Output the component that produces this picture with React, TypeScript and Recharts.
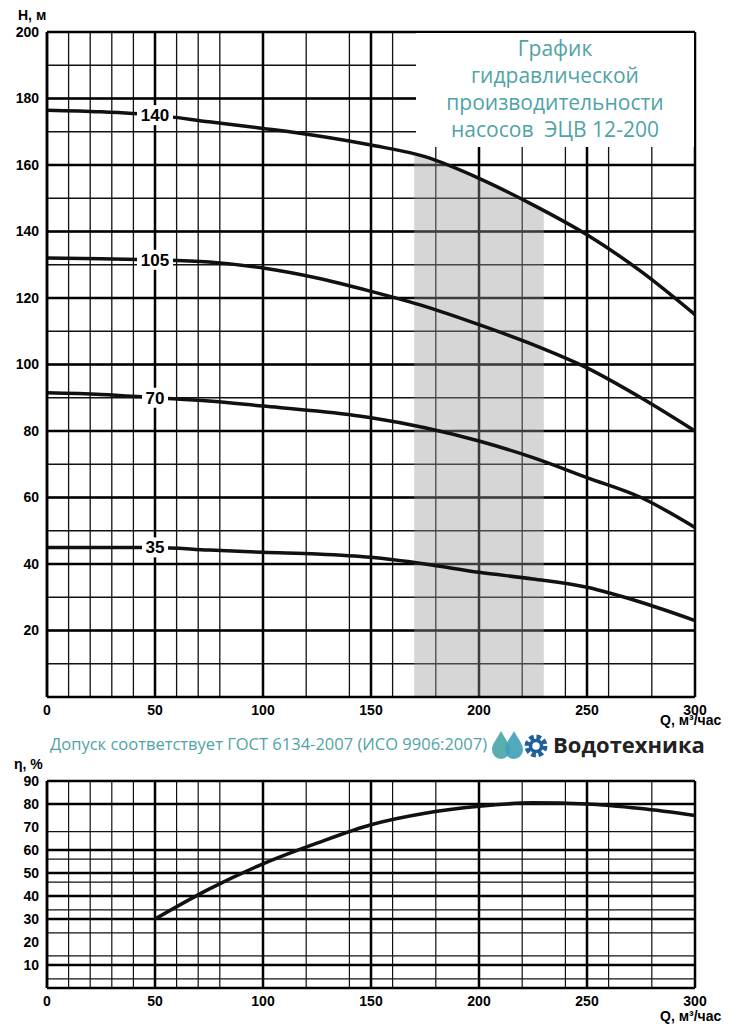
import { LineChart, Line, XAxis, YAxis, CartesianGrid, Area, ComposedChart, ReferenceDot } from "recharts";

const q = [0, 25, 50, 75, 100, 125, 150, 175, 200, 225, 250, 275, 300];
const h140 = [176.5, 176, 175, 173, 171, 168.8, 166, 162.5, 156, 148, 139, 128, 115];
const h105 = [132, 131.8, 131.5, 130.8, 129, 126, 122, 117.5, 112, 106, 99, 90, 80];
const h70 = [91.5, 91, 90, 89, 87.5, 86, 84, 81, 77, 72, 66, 60, 51];
const h35 = [45, 45, 45, 44.2, 43.5, 43, 42, 40, 37.5, 35.5, 33, 28.5, 23];

const shadeQ = [170, 185, 200, 215, 230];
const shadeH = [163.5, 160, 156, 151.5, 146];

const effQ = [50, 75, 100, 125, 150, 175, 200, 225, 250, 275, 300];
const eff = [30, 43, 54, 63, 71, 76, 79, 80.5, 80, 78, 75];

const xTicks = [0, 50, 100, 150, 200, 250, 300];
const hTicks = [20, 40, 60, 80, 100, 120, 140, 160, 180, 200];
const eTicks = [10, 20, 30, 40, 50, 60, 70, 80, 90];
const curveLabels = [
  { name: "140", y: 175 },
  { name: "105", y: 131.5 },
  { name: "70", y: 90 },
  { name: "35", y: 45 },
];

const range = (a: number, b: number, s: number) => {
  const r: number[] = [];
  for (let v = a; v <= b; v += s) r.push(v);
  return r;
};

const headData = q.map((v, i) => ({ q: v, h140: h140[i], h105: h105[i], h70: h70[i], h35: h35[i] }));
const shadeData = shadeQ.map((v, i) => ({ q: v, shade: shadeH[i] }));
const effData = effQ.map((v, i) => ({ q: v, eff: eff[i] }));

const font = "'Liberation Sans', Arial, sans-serif";
const tickStyle = { fontFamily: font, fontWeight: 700, fontSize: 14, fill: "#000" };

const CurveLabel = (props: any) => {
  const { viewBox, value } = props;
  const cx = viewBox.x;
  const cy = viewBox.y;
  const w = value.length * 10 + 6;
  return (
    <g>
      <rect x={cx - w / 2} y={cy - 10} width={w} height={20} fill="#fff" />
      <text x={cx} y={cy + 6} textAnchor="middle" style={{ fontFamily: font, fontWeight: 700, fontSize: 17 }}>
        {value}
      </text>
    </g>
  );
};

export default function App() {
  return (
    <div style={{ position: "relative", width: 737, height: 1024, margin: "-8px 0 0 -8px", background: "#fff" }}>
      <div style={{ position: "absolute", left: 0, top: 0 }}>
        <ComposedChart width={737} height={725} margin={{ top: 32, right: 42, left: 0, bottom: 0 }}>
          <CartesianGrid horizontalValues={range(0, 200, 5)} verticalValues={range(0, 300, 10)} stroke="#111" strokeWidth={1.3} />
          <CartesianGrid horizontalValues={hTicks} verticalValues={xTicks} stroke="#000" strokeWidth={2.5} />
          <Area data={shadeData} dataKey="shade" type="monotone" stroke="none" fill="#999" fillOpacity={0.4} isAnimationActive={false} />
          <XAxis type="number" dataKey="q" domain={[0, 300]} ticks={xTicks} height={28} tick={tickStyle} tickLine={false} axisLine={{ stroke: "#000", strokeWidth: 2.5 }} allowDuplicatedCategory={false} />
          <YAxis type="number" domain={[0, 200]} ticks={hTicks} width={47} tick={tickStyle} tickLine={false} axisLine={{ stroke: "#000", strokeWidth: 2.5 }} />
          {["h140", "h105", "h70", "h35"].map((k) => (
            <Line key={k} data={headData} dataKey={k} type="monotone" stroke="#111" strokeWidth={3.5} dot={false} isAnimationActive={false} />
          ))}
          {curveLabels.map((c) => (
            <ReferenceDot key={c.name} x={50} y={c.y} r={0} label={<CurveLabel value={c.name} />} />
          ))}
        </ComposedChart>
      </div>
      <div style={{ position: "absolute", left: 416, top: 33, width: 278, height: 112, background: "#fff", color: "#4fa3a6", fontFamily: "'Open Sans', sans-serif", fontSize: 21, lineHeight: "27px", textAlign: "center", paddingTop: 2 }}>
        График<br />гидравлической<br />производительности<br />насосов&nbsp; ЭЦВ 12-200
      </div>
      <div style={{ position: "absolute", left: 18, top: 7, fontFamily: font, fontWeight: 700, fontSize: 14, lineHeight: "16px" }}>H, м</div>
      <div style={{ position: "absolute", left: 660, top: 712, fontFamily: font, fontWeight: 700, fontSize: 14, lineHeight: "16px" }}>Q, м³/час</div>
      <div style={{ position: "absolute", left: 50, top: 733, color: "#4fa3a6", fontFamily: "'Open Sans', sans-serif", fontSize: 16.5, lineHeight: "22px" }}>
        Допуск соответствует ГОСТ 6134-2007 (ИСО 9906:2007)
      </div>
      <svg style={{ position: "absolute", left: 490, top: 729 }} width={62} height={32}>
        <path d="M11 2 C16 11 20 15 20 21 A9 9 0 0 1 2 21 C2 15 6 11 11 2Z" fill="#5aaeb0" />
        <path d="M24 2 C29 11 33 15 33 21 A9 9 0 0 1 15 21 C15 15 19 11 24 2Z" fill="#3f9fb8" opacity={0.9} />
        <circle cx={46} cy={17} r={9} fill="none" stroke="#1e5f9c" strokeWidth={5} strokeDasharray="4.5 2.6" />
        <circle cx={46} cy={17} r={5.5} fill="none" stroke="#1e5f9c" strokeWidth={3.5} />
      </svg>
      <div style={{ position: "absolute", left: 553, top: 731, fontFamily: "'Open Sans', sans-serif", fontWeight: 700, fontSize: 22, lineHeight: "26px", color: "#222" }}>Водотехника</div>
      <div style={{ position: "absolute", left: 14, top: 756, fontFamily: font, fontWeight: 700, fontSize: 14, lineHeight: "16px" }}>η, %</div>
      <div style={{ position: "absolute", left: 0, top: 750 }}>
        <LineChart width={737} height={268} data={effData} margin={{ top: 31, right: 42, left: 0, bottom: 0 }}>
          <CartesianGrid horizontalValues={range(0, 90, 2)} verticalValues={range(0, 300, 10)} stroke="#111" strokeWidth={1.2} />
          <CartesianGrid horizontalValues={eTicks} verticalValues={xTicks} stroke="#000" strokeWidth={2.5} />
          <XAxis type="number" dataKey="q" domain={[0, 300]} ticks={xTicks} height={30} tick={tickStyle} tickLine={false} axisLine={{ stroke: "#000", strokeWidth: 2.5 }} />
          <YAxis type="number" domain={[0, 90]} ticks={eTicks} width={47} tick={tickStyle} tickLine={false} axisLine={{ stroke: "#000", strokeWidth: 2.5 }} />
          <Line dataKey="eff" type="monotone" stroke="#111" strokeWidth={3.5} dot={false} isAnimationActive={false} />
        </LineChart>
      </div>
      <div style={{ position: "absolute", left: 660, top: 1008, fontFamily: font, fontWeight: 700, fontSize: 14, lineHeight: "16px" }}>Q, м³/час</div>
    </div>
  );
}
